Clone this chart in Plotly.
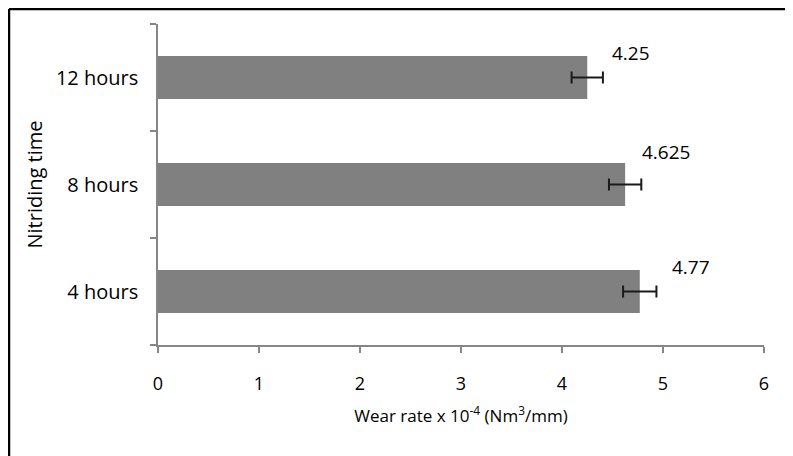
import plotly.graph_objects as go

categories = ["4 hours", "8 hours", "12 hours"]
wear_rate = [4.77, 4.625, 4.25]
error = [0.165, 0.16, 0.155]
label_text = ["4.77", "4.625", "4.25"]

label_xshift = [30, 15, 23]
label_yshift = [25, 33, 25]

FONT = "Open Sans"
# page body offset of the browser (8px) is compensated in the margins
OFF = 8
W, H = 793 - OFF, 456 - OFF
L, T = 158 - OFF, 24 - OFF
R = W - (764 - OFF)
B = H - (345 - OFF)
pw, ph = W - L - R, H - T - B

fig = go.Figure()
fig.add_trace(go.Bar(
    y=categories, x=wear_rate, orientation="h",
    marker=dict(color="#808080", line=dict(width=0)),
    width=0.4,
    error_x=dict(type="data", array=error, color="#1a1a1a", thickness=2, width=6),
))

for c, v, t, xs, ys in zip(categories, wear_rate, label_text, label_xshift, label_yshift):
    fig.add_annotation(x=v, y=c, text=t, showarrow=False, xanchor="left",
                       xshift=xs, yshift=ys, font=dict(family=FONT, size=19, color="#000"))

# outer frame (left and top edges)
fig.add_shape(type="line", xref="paper", yref="paper",
              x0=(1 - L) / pw, x1=(W + 10 - L) / pw, y0=1 + (T - 1) / ph, y1=1 + (T - 1) / ph,
              line=dict(color="#000", width=2.5))
fig.add_shape(type="line", xref="paper", yref="paper",
              x0=(1 - L) / pw, x1=(1 - L) / pw, y0=1 + (T - 1) / ph, y1=-(B + 10) / ph,
              line=dict(color="#000", width=2.5))

fig.update_layout(
    width=W, height=H,
    margin=dict(l=L, r=R, t=T, b=B, autoexpand=False),
    paper_bgcolor="white", plot_bgcolor="white",
    showlegend=False,
    font=dict(family=FONT, size=18, color="#000"),
    xaxis=dict(range=[0, 6], dtick=1, showgrid=False, zeroline=False,
               showline=True, linecolor="#868686", linewidth=1.5,
               ticks="outside", ticklen=6, tickcolor="#868686", tickwidth=1.5,
               tickfont=dict(family=FONT, size=18), ticklabelstandoff=16,
               title=dict(text="Wear rate x 10<sup>-4</sup> (Nm<sup>3</sup>/mm)",
                          font=dict(family=FONT, size=17), standoff=16)),
    yaxis=dict(showgrid=False, zeroline=False,
               showline=True, linecolor="#868686", linewidth=1.5,
               ticks="outside", ticklen=6, tickcolor="#868686", tickwidth=1.5,
               tickson="boundaries",
               tickfont=dict(family=FONT, size=20), ticklabelstandoff=14,
               title=dict(text="Nitriding time", font=dict(family=FONT, size=20), standoff=8)),
)

fig.write_html("out.html")
